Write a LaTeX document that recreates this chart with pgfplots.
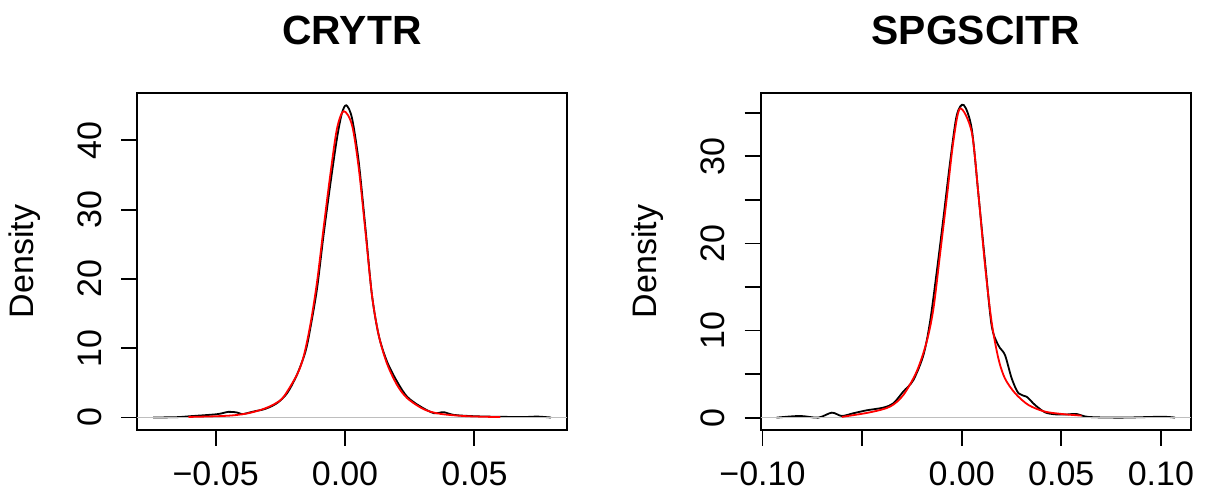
\documentclass[border=0pt]{standalone}
\usepackage{fontspec}
\setmainfont{Liberation Sans}
\usepackage{pgfplots}
\pgfplotsset{compat=1.18}
\definecolor{zerogray}{HTML}{BEBEBE}
\pgfplotsset{
  dens/.style={
    scale only axis, width=215pt, height=168.5pt,
    axis line style={line width=0.9pt},
    tick align=outside, tick pos=left,
    major tick length=8pt,
    tick style={line width=0.9pt, black},
    scaled ticks=false,
    /pgf/number format/assume math mode=true,
    ticklabel style={font=\fontsize{17}{20}\selectfont, inner sep=0pt},
    yticklabel style={rotate=90, anchor=base},
    xticklabel style={anchor=north},
    yticklabel shift=10pt,
    xticklabel shift=7.5pt,
  },
  kde/.style={black, line width=0.9pt, smooth, mark=none},
  fitted/.style={red, line width=0.9pt, smooth, mark=none},
  zero/.style={zerogray, line width=0.6pt, mark=none},
}
\begin{document}
\begin{tikzpicture}
\useasboundingbox (0,0) rectangle (602.5pt,245pt);

% CRYTR
\begin{axis}[dens, at={(68.5pt,30pt)}, anchor=south west,
  xmin=-0.0804, xmax=0.0858, ymin=-1.8, ymax=46.83,
  xtick={-0.05,0,0.05}, xticklabels={−0.05,0.00,0.05},
  ytick={0,10,20,30,40}]
  \addplot[kde] coordinates {
    (-0.0742,0.00) (-0.0650,0.05) (-0.0598,0.19) (-0.0495,0.48)
    (-0.0450,0.82) (-0.0417,0.72) (-0.0398,0.48) (-0.0353,0.87)
    (-0.0308,1.25) (-0.0263,2.07) (-0.0224,3.5) (-0.0186,6.15)
    (-0.0153,9.5) (-0.0134,12.9) (-0.0108,18.65) (-0.0083,26.3)
    (-0.0057,33.6) (-0.0031,40.3) (-0.0012,43.9) (0.0005,45.05)
    (0.0027,43.2) (0.0053,36.9) (0.0079,27.3) (0.0104,17.7)
    (0.0130,11.9) (0.0162,8.1) (0.0201,5.2) (0.0240,3.0)
    (0.0291,1.6) (0.0343,0.63) (0.0381,0.77) (0.0420,0.38)
    (0.0497,0.19) (0.0600,0.10) (0.0700,0.08) (0.0742,0.14)
    (0.0796,0.00)
  };
  \addplot[zero] coordinates {(-0.0804,0) (0.0858,0)};
  \addplot[fitted] coordinates {
    (-0.0605,0.08) (-0.0500,0.18) (-0.0430,0.32) (-0.0370,0.65)
    (-0.0314,1.25) (-0.0270,2.0) (-0.0237,3.0) (-0.0186,6.15)
    (-0.0160,8.8) (-0.0134,13.4) (-0.0108,19.6) (-0.0083,27.3)
    (-0.0057,35.0) (-0.0031,41.7) (-0.0005,44.2) (0.0027,42.2)
    (0.0053,36.0) (0.0079,26.8) (0.0104,17.7) (0.0130,11.9)
    (0.0162,7.8) (0.0201,4.7) (0.0240,2.8) (0.0304,1.2)
    (0.0368,0.53) (0.0471,0.19) (0.0600,0.06)
  };
\end{axis}
\node[anchor=base, font=\bfseries\fontsize{20.4}{24}\selectfont] at (176pt,222.5pt) {CRYTR};
\node[rotate=90, font=\fontsize{17}{20}\selectfont] at (12.5pt,114.25pt) {Density};

% SPGSCITR
\begin{axis}[dens, at={(380.35pt,30pt)}, anchor=south west, width=215.15pt,
  xmin=-0.1009, xmax=0.1151, ymin=-1.42, ymax=37.28,
  xtick={-0.10,-0.05,0,0.05,0.10}, xticklabels={−0.10,,0.00,0.05,0.10},
  ytick={0,5,10,15,20,25,30,35}, yticklabels={0,,10,,20,,30,}]
  \addplot[kde] coordinates {
    (-0.0929,0.00) (-0.0812,0.19) (-0.0720,0.00) (-0.0652,0.57)
    (-0.0602,0.19) (-0.0544,0.50) (-0.0477,0.84) (-0.0393,1.15)
    (-0.0343,1.64) (-0.0293,3.0) (-0.0243,4.3) (-0.0192,7.2)
    (-0.0159,11.0) (-0.0125,16.8) (-0.0092,22.9) (-0.0058,29.4)
    (-0.0025,34.7) (0.0010,35.9) (0.0050,33.2) (0.0084,25.6)
    (0.0117,17.9) (0.0150,10.6) (0.0184,8.3) (0.0217,7.2)
    (0.0251,4.5) (0.0285,2.8) (0.0326,2.4) (0.0368,1.45)
    (0.0418,0.61) (0.0468,0.38) (0.0520,0.35) (0.0577,0.42)
    (0.0636,0.08) (0.0800,0.00) (0.1004,0.10) (0.1071,0.00)
  };
  \addplot[zero] coordinates {(-0.1009,0) (0.1151,0)};
  \addplot[fitted] coordinates {
    (-0.0602,0.08) (-0.0460,0.61) (-0.0360,1.26) (-0.0293,2.6)
    (-0.0226,5.3) (-0.0176,8.7) (-0.0142,12.5) (-0.0109,18.7)
    (-0.0075,25.2) (-0.0042,31.7) (-0.0008,35.5) (0.0050,32.8)
    (0.0084,25.6) (0.0117,17.5) (0.0150,11.0) (0.0184,6.8)
    (0.0217,4.5) (0.0268,2.8) (0.0335,1.45) (0.0418,0.69)
    (0.0519,0.38) (0.0602,0.23)
  };
\end{axis}
\node[anchor=base, font=\bfseries\fontsize{20.4}{24}\selectfont] at (488pt,222.5pt) {SPGSCITR};
\node[rotate=90, font=\fontsize{17}{20}\selectfont] at (324pt,114.25pt) {Density};
\end{tikzpicture}
\end{document}
